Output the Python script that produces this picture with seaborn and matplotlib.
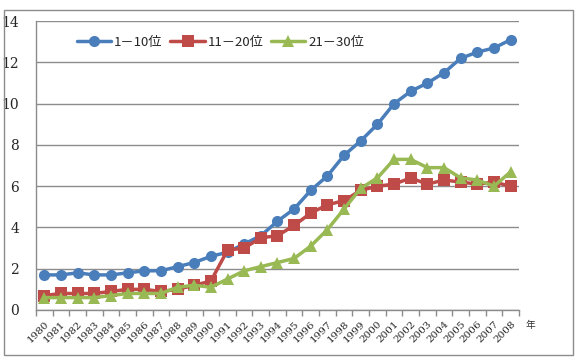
import numpy as np
import pandas as pd
import seaborn as sns
import matplotlib.pyplot as plt
from matplotlib.patches import Rectangle

# data
years = list(range(1980, 2009))
top_1_10 = [1.7, 1.7, 1.8, 1.7, 1.7, 1.8, 1.9, 1.9, 2.1, 2.3, 2.6, 2.8, 3.2, 3.6, 4.3,
            4.9, 5.8, 6.5, 7.5, 8.2, 9.0, 10.0, 10.6, 11.0, 11.5, 12.2, 12.5, 12.7, 13.1]
top_11_20 = [0.7, 0.8, 0.8, 0.8, 0.9, 1.0, 1.0, 0.9, 1.0, 1.2, 1.4, 2.9, 3.0, 3.5, 3.6,
             4.1, 4.7, 5.1, 5.3, 5.8, 6.0, 6.1, 6.4, 6.1, 6.3, 6.2, 6.1, 6.2, 6.0]
top_21_30 = [0.6, 0.6, 0.6, 0.6, 0.7, 0.8, 0.8, 0.8, 1.1, 1.2, 1.1, 1.5, 1.9, 2.1, 2.3,
             2.5, 3.1, 3.9, 4.9, 5.9, 6.4, 7.3, 7.3, 6.9, 6.9, 6.4, 6.3, 6.0, 6.7]
labels = ["1－10位", "11－20位", "21－30位"]
colors = ["#4A7EBB", "#BE4B48", "#98B954"]

df = pd.concat([
    pd.DataFrame({"year": years, "value": v, "group": lab})
    for v, lab in zip([top_1_10, top_11_20, top_21_30], labels)
])

sns.set_style("white")
plt.rcParams["font.family"] = ["Noto Sans CJK JP", "DejaVu Sans"]

fig = plt.figure(figsize=(5.83, 3.57), dpi=100)
ax = fig.add_axes([0.0617, 0.1317, 0.8285, 0.809])

# outer chart frame
fig.patches.append(Rectangle((0.007, 0.006), 0.976, 0.967, transform=fig.transFigure,
                             fill=False, edgecolor="#8c8c8c", linewidth=1.0))

sns.lineplot(data=df, x="year", y="value", hue="group", style="group",
             palette=dict(zip(labels, colors)), markers=["o", "s", "^"], dashes=False,
             linewidth=2.5, markersize=8, markeredgewidth=0, ax=ax)

ax.set_xlim(1979.5, 2008.5)
ax.set_ylim(0, 14)
ax.set_yticks(range(0, 15, 2))
ax.yaxis.grid(True, color="#8c8c8c", linewidth=1.0)
ax.set_axisbelow(True)
ax.set_xlabel("")
ax.set_ylabel("")

ax.set_xticks(years)
ax.set_xticklabels([str(y) for y in years], rotation=45, ha="right",
                   rotation_mode="anchor", family=["DejaVu Serif"], fontsize=7.5)
ax.set_xticks(np.arange(1979.5, 2009, 1), minor=True)
ax.tick_params(axis="x", which="major", length=0, pad=7)
ax.tick_params(axis="x", which="minor", length=4, color="#8c8c8c", width=1, direction="out",
               bottom=True)
ax.tick_params(axis="y", length=0, pad=12)
for t in ax.get_yticklabels():
    t.set_family(["DejaVu Serif"])
    t.set_fontsize(10)

for s in ["top", "right"]:
    ax.spines[s].set_visible(False)
for s in ["left", "bottom"]:
    ax.spines[s].set_color("#8c8c8c")
    ax.spines[s].set_linewidth(1.0)

ax.legend(loc="center left", bbox_to_anchor=(0.085, 0.927), ncol=3, frameon=False,
          fontsize=9.5, handlelength=2.6, handletextpad=0.2, columnspacing=0.6,
          borderaxespad=0, borderpad=0)

fig.text(0.902, 0.09, "年", fontsize=7, color="#333333", ha="left", va="center")

plt.savefig("out.png", dpi=100)
